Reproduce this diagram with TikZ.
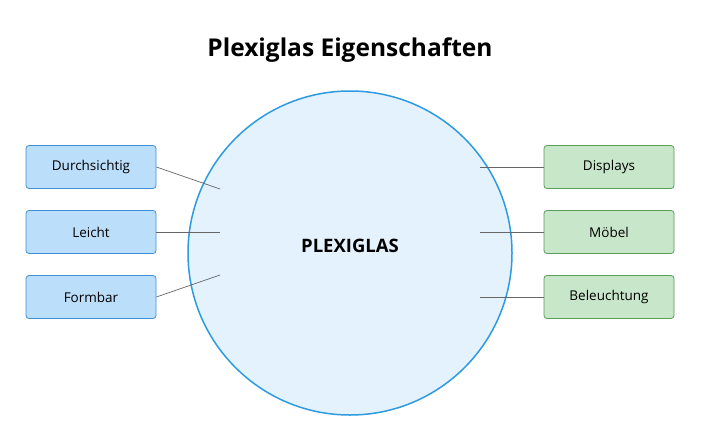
\documentclass[tikz,border=0pt]{standalone}
\usepackage{fontspec}
\setmainfont{Open Sans}
\begin{document}
\begin{tikzpicture}[x=1pt,y=-1pt,
  lbox/.style={draw=#1!70!black,rounded corners=3pt,minimum width=130pt,minimum height=43pt,font=\fontsize{13.5}{15}\selectfont,line width=0.8pt},
  conn/.style={draw=black!60,line width=0.7pt}]
\definecolor{bfill}{HTML}{BBDEFB}\definecolor{bdraw}{HTML}{3F8FD8}
\definecolor{gfill}{HTML}{C8E6C9}\definecolor{gdraw}{HTML}{5A9E5E}
\definecolor{cfill}{HTML}{E3F2FD}\definecolor{cdraw}{HTML}{2E9AE0}
\useasboundingbox (0,0) rectangle (706,442);
\node[font=\bfseries\fontsize{24.5}{28}\selectfont] (title) at (350,50) {Plexiglas Eigenschaften};
\node[circle,draw=cdraw,fill=cfill,line width=1.5pt,minimum size=324pt] (c) at (350,253) {};
\node[font=\bfseries\fontsize{18.5}{22}\selectfont] (ct) at (350,246) {PLEXIGLAS};
\foreach \n/\t/\y in {d/Durchsichtig/167,l/Leicht/232,f/Formbar/297}
  \node[lbox=bdraw,fill=bfill,draw=bdraw] (\n) at (91,\y) {\t};
\foreach \n/\t/\y in {di/Displays/167,m/Möbel/232,b/Beleuchtung/297}
  \node[lbox=gdraw,fill=gfill,draw=gdraw] (\n) at (609,\y) {\t};
\coordinate (p1) at (220,189);\coordinate (p2) at (220,232);\coordinate (p3) at (220,275);
\coordinate (q1) at (480,167);\coordinate (q2) at (480,232);\coordinate (q3) at (480,297);
\draw[conn] (d.east) -- (p1);\draw[conn] (l.east) -- (p2);\draw[conn] (f.east) -- (p3);
\draw[conn] (q1) -- (di.west);\draw[conn] (q2) -- (m.west);\draw[conn] (q3) -- (b.west);
\end{tikzpicture}
\end{document}
